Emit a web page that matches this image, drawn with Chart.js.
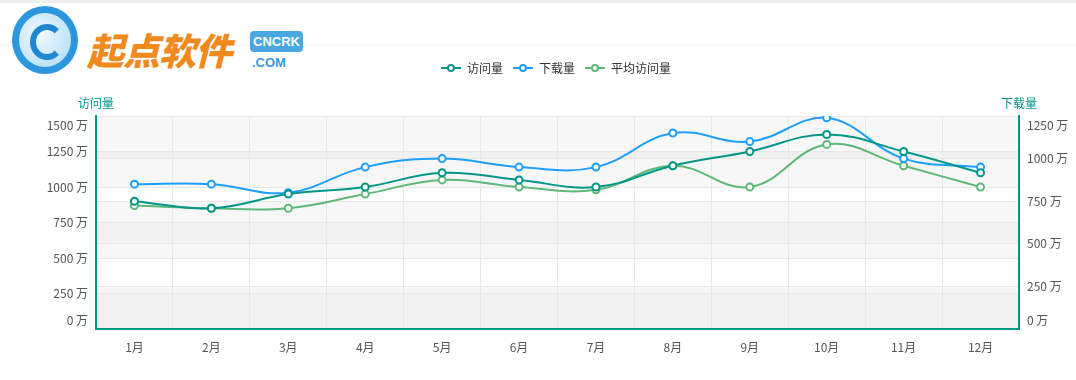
<!DOCTYPE html>
<html>
<head>
<meta charset="utf-8">
<script src="https://cdn.jsdelivr.net/npm/chart.js@4/dist/chart.umd.min.js"></script>
<style>
  html, body { margin: 0; padding: 0; background: #fff; }
  body { width: 1076px; height: 380px; position: relative; overflow: hidden; font-family: "Noto Sans CJK SC", "Noto Sans", sans-serif; }
  #topbar { position: absolute; left: 0; top: 0; width: 1076px; height: 3px; background: #eeeeee; }
  #rule { position: absolute; left: 0; top: 45px; width: 1076px; height: 1px; background: #f2f2f2; }
  #chart { position: absolute; left: 0; top: 0; }
  .logo-ring { position: absolute; left: 12px; top: 6px; width: 52px; height: 54px; border-radius: 50%;
    border: 7px solid #2b97de; background: radial-gradient(circle at 40% 40%, #f3faff 0%, #bfe2f7 70%, #8fcdf2 100%); }
  .logo-core { position: absolute; left: 30px; top: 24px; width: 22px; height: 24px; border-radius: 50%;
    border: 6px solid #1f86d1; border-right-color: transparent; }
  .logo-text { position: absolute; left: 87px; top: 25px; font-size: 37px; font-weight: 900; color: #f08a1e;
    letter-spacing: -1px; line-height: 48px; font-style: italic; }
  .logo-box { position: absolute; left: 250px; top: 31px; width: 53px; height: 21px; background: #4aa7e1; border-radius: 4px;
    color: #fff; font: bold 13px "Liberation Sans", sans-serif; text-align: center; line-height: 21px; }
  .logo-com { position: absolute; left: 252px; top: 54px; color: #3a9be0; font: bold 13px "Liberation Sans", sans-serif; line-height: 18px; }
</style>
</head>
<body>
<div id="topbar"></div>
<div id="rule"></div>
<div class="logo-ring"></div>
<div class="logo-core"></div>
<div class="logo-text">起点软件</div>
<div class="logo-box">CNCRK</div>
<div class="logo-com">.COM</div>
<canvas id="chart" width="1076" height="380"></canvas>
<script>
const months = ['1月', '2月', '3月', '4月', '5月', '6月', '7月', '8月', '9月', '10月', '11月', '12月'];
const visits = [900, 850, 950, 1000, 1100, 1050, 1000, 1150, 1250, 1370, 1250, 1100];
const downloads = [850, 850, 800, 950, 1000, 950, 950, 1150, 1100, 1240, 1000, 950];
const avgVisits = [870, 850, 850, 950, 1050, 1000, 980, 1150, 1000, 1300, 1150, 1000];
const leftTicks = [0, 250, 500, 750, 1000, 1250, 1500];
const rightTicks = [0, 250, 500, 750, 1000, 1250];

const teal = '#009688';
const blue = '#1e9fff';
const green = '#5fb878';
const fontFamily = '"Noto Sans CJK SC", "Noto Sans", sans-serif';
Chart.defaults.font.family = fontFamily;
Chart.defaults.font.size = 12;

// little "-o-" icons for the legend
function legendIcon(color) {
  const c = document.createElement('canvas');
  c.width = 20; c.height = 10;
  const g = c.getContext('2d');
  g.strokeStyle = color;
  g.lineWidth = 2;
  g.beginPath(); g.moveTo(0, 5); g.lineTo(20, 5); g.stroke();
  g.beginPath(); g.arc(10, 5, 3, 0, Math.PI * 2);
  g.fillStyle = '#fff'; g.fill(); g.stroke();
  return c;
}
const icons = [legendIcon(teal), legendIcon(blue), legendIcon(green)];

function series(label, data, color, axis) {
  return {
    label: label,
    data: data,
    yAxisID: axis,
    borderColor: color,
    backgroundColor: '#fff',
    borderWidth: 2,
    pointRadius: 3.5,
    pointHoverRadius: 3.5,
    pointBorderWidth: 2,
    pointBackgroundColor: '#fff',
    pointBorderColor: color,
    tension: 0.4,
    fill: false
  };
}

const extras = {
  id: 'extras',
  afterInit(chart) {
    const fit = chart.legend.fit;
    chart.legend.fit = function () {
      fit.call(this);
      this.height += 32;
    };
  },
  afterUpdate(chart) {
    // legend sits a bit right of the canvas centre
    chart.legend.left += 18;
    chart.legend.right += 18;
  },
  beforeDraw(chart) {
    const ctx = chart.ctx;
    const area = chart.chartArea;
    ctx.save();
    ctx.fillStyle = '#fdfdfd';
    ctx.fillRect(area.left, area.top, area.right - area.left, area.bottom - area.top);
    ctx.fillStyle = 'rgba(0,0,0,0.025)';
    [['y', leftTicks], ['y1', rightTicks]].forEach(([id, ticks]) => {
      const s = chart.scales[id];
      for (let i = 0; i < ticks.length - 1; i += 2) {
        const y0 = s.getPixelForValue(ticks[i]);
        const y1 = s.getPixelForValue(ticks[i + 1]);
        ctx.fillRect(area.left, y1, area.right - area.left, y0 - y1);
      }
    });
    ctx.restore();
  },
  afterDraw(chart) {
    const ctx = chart.ctx;
    const area = chart.chartArea;
    ctx.save();
    ctx.font = '12px ' + fontFamily;
    ctx.textBaseline = 'middle';
    ctx.fillStyle = '#555';
    const clampY = (y) => Math.min(Math.max(y, area.top + 9), area.bottom - 9);
    ctx.textAlign = 'right';
    leftTicks.forEach(v => {
      ctx.fillText(v + ' 万', area.left - 8, clampY(chart.scales.y.getPixelForValue(v)));
    });
    ctx.textAlign = 'left';
    rightTicks.forEach(v => {
      ctx.fillText(v + ' 万', area.right + 8, clampY(chart.scales.y1.getPixelForValue(v)));
    });
    ctx.fillStyle = teal;
    ctx.textAlign = 'center';
    ctx.fillText('访问量', area.left, area.top - 13);
    ctx.fillText('下载量', area.right, area.top - 13);
    ctx.restore();
  }
};

new Chart(document.getElementById('chart'), {
  type: 'line',
  data: {
    labels: months,
    datasets: [
      series('访问量', visits, teal, 'y'),
      series('下载量', downloads, blue, 'y1'),
      series('平均访问量', avgVisits, green, 'y')
    ]
  },
  options: {
    responsive: false,
    animation: false,
    layout: { padding: { top: 52, left: 0, right: 0, bottom: 0 } },
    plugins: {
      legend: {
        position: 'top',
        labels: {
          usePointStyle: true,
          pointStyleWidth: 20,
          boxHeight: 10,
          padding: 10,
          color: '#333',
          font: { size: 12 },
          generateLabels(chart) {
            return Chart.defaults.plugins.legend.labels.generateLabels(chart).map((l, i) => {
              l.pointStyle = icons[i];
              return l;
            });
          }
        }
      },
      tooltip: { enabled: false }
    },
    scales: {
      x: {
        offset: true,
        grid: { offset: true, color: '#e8e8e8', drawTicks: false },
        border: { color: teal, width: 2 },
        ticks: { color: '#555', padding: 11, font: { size: 12 } },
        afterFit(s) { s.height = 51; }
      },
      y: {
        position: 'left',
        min: 0,
        max: 1500,
        ticks: { stepSize: 250, display: false },
        grid: { color: '#e8e8e8', drawTicks: false },
        border: { color: teal, width: 2 },
        afterFit(s) { s.width = 96; }
      },
      y1: {
        position: 'right',
        min: 0,
        max: 1250,
        ticks: { stepSize: 250, display: false },
        grid: { color: '#e8e8e8', drawTicks: false },
        border: { color: teal, width: 2 },
        afterFit(s) { s.width = 57; }
      }
    }
  },
  plugins: [extras]
});
</script>
</body>
</html>
